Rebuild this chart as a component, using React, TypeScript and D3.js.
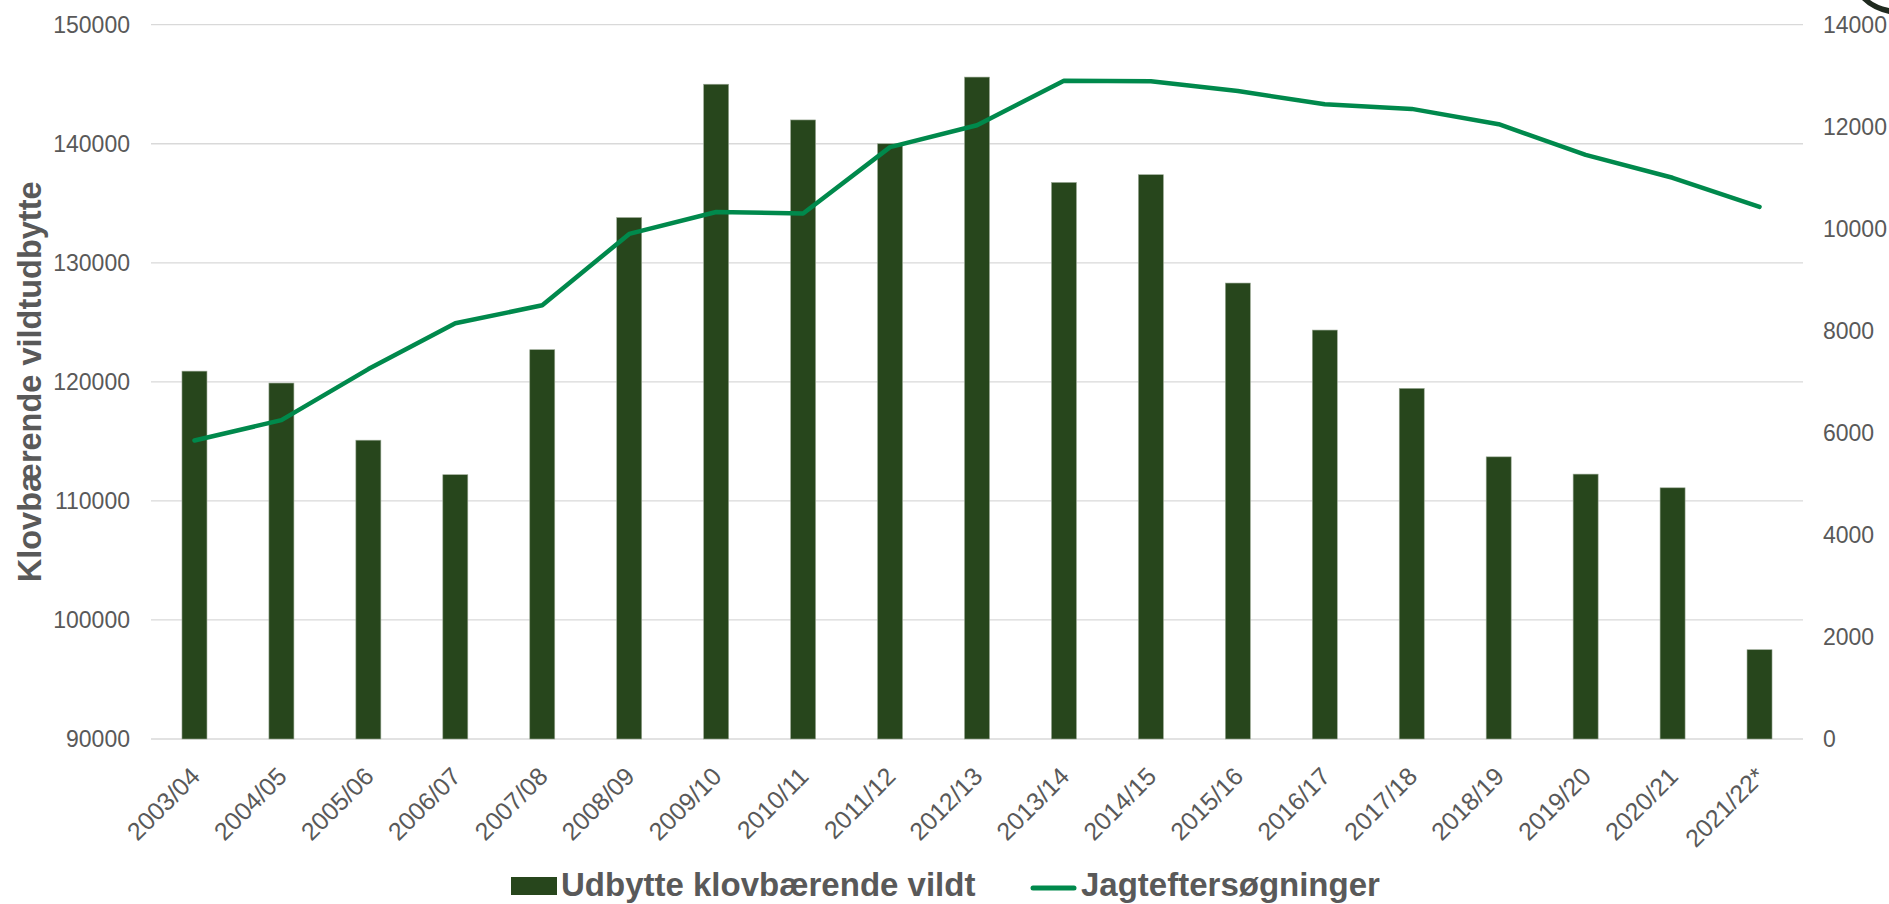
import React from "react";
import * as d3 from "d3";

const categories = [
  "2003/04", "2004/05", "2005/06", "2006/07", "2007/08", "2008/09", "2009/10",
  "2010/11", "2011/12", "2012/13", "2013/14", "2014/15", "2015/16", "2016/17",
  "2017/18", "2018/19", "2019/20", "2020/21", "2021/22*",
];
const udbytte = [
  120900, 119900, 115100, 112200, 122700, 133800, 145000, 142000, 140000, 145600,
  136750, 137400, 128300, 124350, 119450, 113700, 112250, 111100, 97500,
];
const jagtefter = [
  5850, 6250, 7250, 8150, 8500, 9900, 10330, 10300, 11600, 12030,
  12900, 12890, 12700, 12440, 12350, 12050, 11450, 11000, 10430,
];
const leftTicks = [90000, 100000, 110000, 120000, 130000, 140000, 150000];
const rightTicks = [0, 2000, 4000, 6000, 8000, 10000, 12000, 14000];
const seriesNames = ["Udbytte klovbærende vildt", "Jagteftersøgninger"];
const yTitle = "Klovbærende vildtudbytte";

const W = 1889;
const H = 904;
const M = { left: 151, right: 1803, top: 24.7, bottom: 739 };
const BAR = "#27461c";
const LINE = "#00894c";
const TXT = "#595959";
const FONT = "'Liberation Sans', Arial, sans-serif";

export default function App() {
  const x = d3.scaleBand<string>().domain(categories).range([M.left, M.right]).padding(0);
  const yL = d3.scaleLinear().domain([90000, 150000]).range([M.bottom, M.top]);
  const yR = d3.scaleLinear().domain([0, 14000]).range([M.bottom, M.top]);
  const bw = x.bandwidth() * 0.2875;
  const cx = (c: string) => (x(c) as number) + x.bandwidth() / 2;
  const line = d3
    .line<number>()
    .x((_, i) => cx(categories[i]))
    .y((d) => yR(d));

  return (
    <svg
      width={W}
      height={H}
      style={{ position: "absolute", left: 0, top: 0, background: "#fff" }}
      fontFamily={FONT}
    >
      {leftTicks.map((t) => (
        <g key={"l" + t}>
          <line x1={M.left} x2={M.right} y1={yL(t)} y2={yL(t)} stroke="#d9d9d9" strokeWidth={1.3} />
          <text x={130} y={yL(t)} dy="0.35em" textAnchor="end" fontSize={23} fill={TXT}>
            {t}
          </text>
        </g>
      ))}
      {rightTicks.map((t) => (
        <text key={"r" + t} x={1823} y={yR(t)} dy="0.35em" textAnchor="start" fontSize={23} fill={TXT}>
          {t}
        </text>
      ))}
      {categories.map((c, i) => (
        <rect
          key={"b" + c}
          x={cx(c) - bw / 2}
          y={yL(udbytte[i])}
          width={bw}
          height={M.bottom - yL(udbytte[i])}
          fill={BAR}
          stroke="#9aa894"
          strokeWidth={0.6}
        />
      ))}
      <path
        d={line(jagtefter) || ""}
        fill="none"
        stroke={LINE}
        strokeWidth={4.5}
        strokeLinejoin="round"
        strokeLinecap="round"
      />
      {categories.map((c) => (
        <text
          key={"x" + c}
          transform={`translate(${cx(c) + 7},${778}) rotate(-45)`}
          textAnchor="end"
          fontSize={25}
          fill={TXT}
        >
          {c}
        </text>
      ))}
      <text
        transform={`translate(41,${(M.top + M.bottom) / 2}) rotate(-90)`}
        textAnchor="middle"
        fontSize={32.5}
        fontWeight="bold"
        fill={TXT}
      >
        {yTitle}
      </text>
      <g>
        <rect x={511} y={877} width={46} height={18} fill={BAR} />
        <text x={561} y={896} fontSize={33} fontWeight="bold" fill={TXT}>
          {seriesNames[0]}
        </text>
        <line x1={1033} x2={1074} y1={888} y2={888} stroke={LINE} strokeWidth={5} strokeLinecap="round" />
        <text x={1081} y={896} fontSize={33} fontWeight="bold" fill={TXT}>
          {seriesNames[1]}
        </text>
      </g>
      <path d="M1862,0 Q1872,10 1889,14 L1889,8 Q1876,5 1870,0 Z" fill="#1f2a1f" />
    </svg>
  );
}
